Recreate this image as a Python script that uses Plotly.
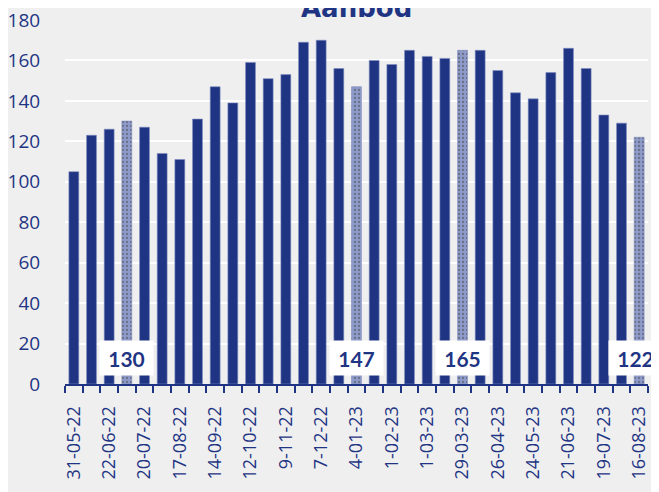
import plotly.graph_objects as go

dates = ["31-05-22", "8-06-22", "22-06-22", "6-07-22", "20-07-22", "3-08-22", "17-08-22",
         "31-08-22", "14-09-22", "28-09-22", "12-10-22", "26-10-22", "9-11-22", "23-11-22",
         "7-12-22", "21-12-22", "4-01-23", "18-01-23", "1-02-23", "15-02-23", "1-03-23",
         "15-03-23", "29-03-23", "12-04-23", "26-04-23", "10-05-23", "24-05-23", "7-06-23",
         "21-06-23", "5-07-23", "19-07-23", "2-08-23", "16-08-23"]
values = [105, 123, 126, 130, 127, 114, 111, 131, 147, 139, 159, 151, 153, 169, 170, 156,
          147, 160, 158, 165, 162, 161, 165, 165, 155, 144, 141, 154, 166, 156, 133, 129, 122]
highlight = [3, 16, 22, 32]
title = "Aanbod"

DARK = "#1f3584"
LIGHT = "#8e9ac9"
BG = "#efefef"
FONT = "Lato"
TICKFONT = "Open Sans"

x = list(range(len(dates)))
colors = [LIGHT if i in highlight else DARK for i in x]
shapes = ["." if i in highlight else "" for i in x]

fig = go.Figure()
fig.add_trace(go.Bar(
    x=x, y=values,
    marker=dict(color=colors,
                line=dict(color="#7f8cc0", width=0.6),
                pattern=dict(shape=shapes, fgcolor="white", bgcolor=LIGHT, size=4, solidity=0.25)),
    width=0.56,
    hoverinfo="x+y",
))

for i in highlight:
    fig.add_annotation(x=i, y=13, text="<b>%d</b>" % values[i], showarrow=False,
                       font=dict(family=FONT, size=21, color=DARK),
                       bgcolor="white", borderpad=5, width=43, height=24,
                       xshift=-4 if i == len(dates) - 1 else 0)

fig.add_annotation(x=0.5, xref="paper", y=1, yref="paper", yanchor="bottom", yshift=-5,
                   text="<b>%s</b>" % title, showarrow=False,
                   font=dict(family="DejaVu Sans", size=26, color=DARK))

fig.update_layout(
    width=651, height=484,
    paper_bgcolor=BG, plot_bgcolor=BG,
    margin=dict(l=57, r=11, t=12, b=108, autoexpand=False),
    showlegend=False,
    bargap=0.44,
)
fig.update_xaxes(
    automargin=False,
    range=[-0.5, len(dates) - 0.5],
    tickmode="array", tickvals=x[::2], ticktext=dates[::2], tickangle=-90,
    ticks="outside", ticklen=13, tickcolor="rgba(0,0,0,0)",
    tickfont=dict(family=TICKFONT, size=18, color=DARK),
    ticklabeloverflow="allow",
    showline=True, linecolor=DARK, linewidth=2,
    showgrid=False, zeroline=False,
    minor=dict(tickvals=[i - 0.5 for i in range(len(dates) + 1)], ticks="outside",
               ticklen=7, tickcolor=DARK, tickwidth=2, showgrid=False),
)
fig.update_yaxes(
    automargin=False,
    range=[0, 180], dtick=20, tick0=0,
    showgrid=True, gridcolor="white", gridwidth=2,
    zeroline=False, showline=False,
    ticks="outside", ticklen=20, tickcolor="rgba(0,0,0,0)",
    tickfont=dict(family=TICKFONT, size=19, color=DARK),
    ticklabeloverflow="allow",
)

fig.write_html("out.html")
